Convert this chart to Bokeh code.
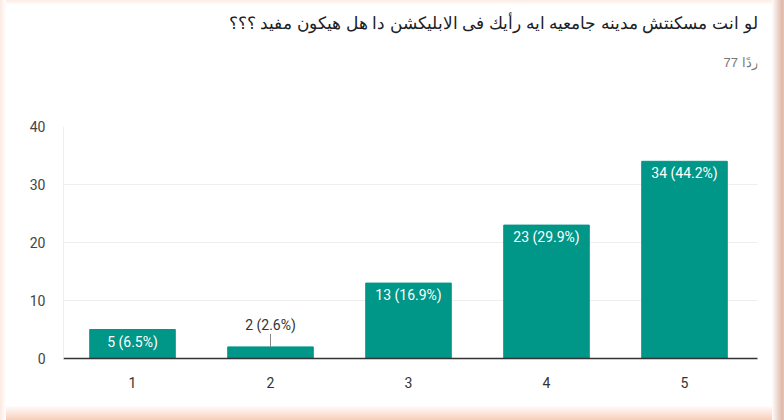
from bokeh.plotting import figure
from bokeh.layouts import row, column
from bokeh.models import Range1d, ColumnDataSource, FixedTicker, Div
from bokeh.core.properties import value
from bokeh.embed import file_html
from bokeh.resources import INLINE

# ---- data ----
categories = [1, 2, 3, 4, 5]
counts = [5, 2, 13, 23, 34]
total_responses = 77
y_ticks = [0, 10, 20, 30, 40]
title_text = "لو انت مسكنتش مدينه جامعيه ايه رأيك فى الابليكشن دا هل هيكون مفيد ؟؟؟"
subtitle_text = "77 ردًا"

labels = [f"{c} ({c / total_responses * 100:.1f}%)" for c in counts]

BAR = "#009688"
W, H = 784, 420
LB, RB, TB, BB = 6, 12, 5, 14      # soft screenshot-border bands
CW = W - LB - RB
HEAD_H = 96 - TB
MAIN_H = H - TB - HEAD_H - BB
FRAME_L, FRAME_R, FRAME_T, FRAME_B = 63, 757, 126, 358
MB_L = FRAME_L - LB
MB_R = (LB + CW) - FRAME_R
MB_T = FRAME_T - (TB + HEAD_H)
MB_B = (TB + HEAD_H + MAIN_H) - FRAME_B
FRAME_H = FRAME_B - FRAME_T
PX_PER_UNIT = FRAME_H / 40.0
CAT_PX = 138.0
X_END = 0.5 + (FRAME_R - FRAME_L) / CAT_PX

# ---- header with title and response count ----
head = figure(width=CW, height=HEAD_H, output_backend="svg", toolbar_location=None,
              x_range=Range1d(FRAME_L, FRAME_R), y_range=Range1d(TB + HEAD_H, TB),
              x_axis_location=None, y_axis_location=None,
              min_border_left=MB_L, min_border_right=MB_R, min_border_top=0,
              min_border_bottom=0, margin=(0, 0, 0, 0))
head.grid.visible = False
head.outline_line_color = None
head.text(x=[FRAME_R], y=[22], text=[title_text], text_align="right", text_baseline="middle",
          text_font=value("Liberation Sans"), text_font_size="16.5px", text_color="#202124")
head.text(x=[FRAME_R], y=[62], text=[subtitle_text], text_align="right",
          text_baseline="middle", text_font=value("Liberation Sans"), text_font_size="13px",
          text_color="#777777")

# ---- main chart ----
p = figure(width=CW, height=MAIN_H, output_backend="svg", toolbar_location=None,
           x_range=Range1d(0.5, X_END), y_range=Range1d(0, 40),
           min_border_left=MB_L, min_border_right=MB_R, min_border_top=MB_T,
           min_border_bottom=MB_B, margin=(0, 0, 0, 0))
p.background_fill_color = "white"
p.border_fill_color = "white"
p.outline_line_color = None

p.vbar(x=categories, top=counts, width=0.62, color=BAR, line_color=BAR)

inside = [c >= 4 for c in counts]
src_in = ColumnDataSource(dict(x=[x for x, i in zip(categories, inside) if i],
                               y=[y for y, i in zip(counts, inside) if i],
                               t=[t for t, i in zip(labels, inside) if i]))
out_y = [y for y, i in zip(counts, inside) if not i]
src_out = ColumnDataSource(dict(x=[x for x, i in zip(categories, inside) if not i],
                                y=out_y,
                                y1=[y + 13 / PX_PER_UNIT for y in out_y],
                                t=[t for t, i in zip(labels, inside) if not i]))
p.text(x="x", y="y", text="t", source=src_in, text_align="center", text_baseline="top",
       y_offset=4, text_color="white", text_font=value("Roboto"), text_font_size="14px")
p.text(x="x", y="y1", text="t", source=src_out, text_align="center", text_baseline="bottom",
       y_offset=-1, text_color="#333333", text_font=value("Roboto"), text_font_size="14px")
p.segment(x0="x", y0="y", x1="x", y1="y1", source=src_out, line_color="#888888", line_width=1)

p.yaxis.ticker = FixedTicker(ticks=y_ticks)
p.yaxis.major_tick_line_color = None
p.yaxis.minor_tick_line_color = None
p.yaxis.axis_line_color = "#eeeeee"
p.yaxis.major_label_text_font = "Roboto"
p.yaxis.major_label_text_font_size = "14px"
p.yaxis.major_label_text_color = "#444444"
p.yaxis.major_label_standoff = 12

p.xaxis.ticker = FixedTicker(ticks=categories)
p.xaxis.major_tick_line_color = None
p.xaxis.minor_tick_line_color = None
p.xaxis.axis_line_color = "#333333"
p.xaxis.axis_line_width = 1.5
p.xaxis.major_label_text_font = "Roboto"
p.xaxis.major_label_text_font_size = "14px"
p.xaxis.major_label_text_color = "#333333"
p.xaxis.major_label_standoff = 12

p.xgrid.grid_line_color = None
p.ygrid.grid_line_color = "#eeeeee"
p.ygrid.ticker = FixedTicker(ticks=y_ticks)

# ---- soft screenshot-border bands ----
top_band = Div(text="", width=CW, height=TB, margin=(0, 0, 0, 0), styles={
    "background": "linear-gradient(to top, rgba(246,200,178,0), rgba(246,200,178,0.35))"})
bottom_band = Div(text="", width=CW, height=BB, margin=(0, 0, 0, 0), styles={
    "background": "linear-gradient(to bottom, rgba(242,165,127,0.02), rgba(242,165,127,0.55))"})
left_band = Div(text="", width=LB, height=H, margin=(0, 0, 0, 0), styles={
    "background": "linear-gradient(to left, rgba(246,200,178,0), rgba(246,200,178,0.4))"})
right_band = Div(text="", width=RB, height=H, margin=(0, 0, 0, 0), styles={
    "background": "linear-gradient(to right, rgba(196,127,98,0.02), rgba(196,127,98,0.55) 85%, rgba(196,127,98,0.45))"})

layout = row(left_band, column(top_band, head, p, bottom_band, spacing=0, margin=(0, 0, 0, 0)),
             right_band, spacing=0, margin=(0, 0, 0, 0))

open("out.html", "w").write(file_html(layout, INLINE))
